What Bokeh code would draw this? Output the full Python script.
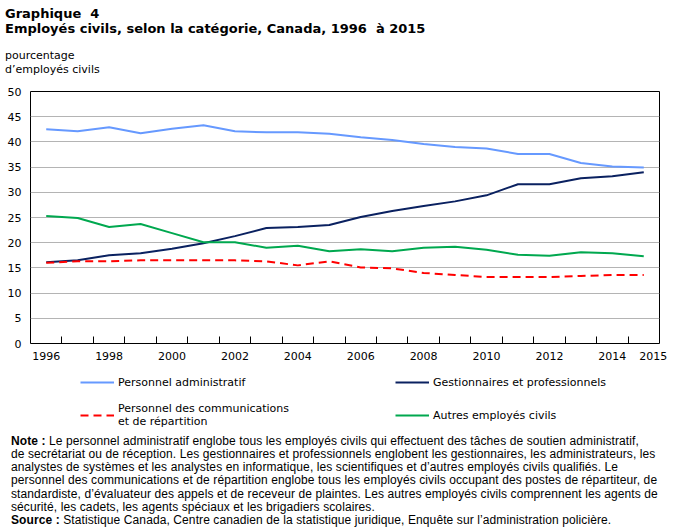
from bokeh.plotting import figure
from bokeh.layouts import column
from bokeh.models import Div, FixedTicker, Legend, LegendItem, Range1d
from bokeh.embed import file_html
from bokeh.resources import INLINE

# Share of civilian employees by category, Canada, 1996 to 2015 (percent)
years = list(range(1996, 2016))
administratif = [42.5, 42.1, 42.9, 41.7, 42.6, 43.3, 42.1, 41.9, 41.9, 41.6,
                 40.9, 40.4, 39.6, 39.0, 38.7, 37.6, 37.6, 35.8, 35.1, 34.9]
gestionnaires = [16.1, 16.5, 17.5, 17.9, 18.8, 19.9, 21.3, 22.9, 23.1, 23.5,
                 25.1, 26.3, 27.3, 28.2, 29.4, 31.6, 31.6, 32.8, 33.2, 34.0]
communications = [16.0, 16.3, 16.3, 16.5, 16.5, 16.5, 16.5, 16.3, 15.5, 16.3,
                  15.1, 14.9, 14.0, 13.6, 13.2, 13.2, 13.2, 13.4, 13.6, 13.6]
autres = [25.3, 24.9, 23.1, 23.7, 21.9, 20.1, 20.1, 19.0, 19.4, 18.3,
          18.7, 18.3, 19.0, 19.2, 18.6, 17.6, 17.4, 18.1, 17.9, 17.3]

series_names = ["Personnel administratif",
                "Gestionnaires et professionnels",
                "Personnel des communications\net de répartition",
                "Autres employés civils"]
series_colors = ["#6699ff", "#0a2160", "#ff0000", "#00a84f"]

y_ticks = list(range(0, 55, 5))
x_label_years = [1996, 1998, 2000, 2002, 2004, 2006, 2008, 2010, 2012, 2014, 2015]

title_lines = ["Graphique&nbsp; 4",
               "Employés civils, selon la catégorie, Canada, 1996&nbsp; à 2015"]
y_title_lines = ["pourcentage", "d\u2019employés civils"]
note_lines = [
    ("Note :", "Le personnel administratif englobe tous les employés civils qui effectuent des tâches de soutien administratif,"),
    ("", "de secrétariat ou de réception. Les gestionnaires et professionnels englobent les gestionnaires, les administrateurs, les"),
    ("", "analystes de systèmes et les analystes en informatique, les scientifiques et d\u2019autres employés civils qualifiés. Le"),
    ("", "personnel des communications et de répartition englobe tous les employés civils occupant des postes de répartiteur, de"),
    ("", "standardiste, d\u2019évaluateur des appels et de receveur de plaintes. Les autres employés civils comprennent les agents de"),
    ("", "sécurité, les cadets, les agents spéciaux et les brigadiers scolaires."),
    ("Source :", "Statistique Canada, Centre canadien de la statistique juridique, Enquête sur l\u2019administration policière."),
]

W = 673
TOP_H, FIG_H, LEG_H, NOTE_H = 80, 293, 59, 99
BORDER_L, BORDER_R = 30, 14

AXIS_FONT = "DejaVu Sans"
NOTE_FONT = "Liberation Sans"


def line_div(text, left, top, font, size, bold=False, spacing=0.0):
    weight = "bold" if bold else "normal"
    return (f'<div style="position:absolute;left:{left}px;top:{top}px;'
            f'font-family:\'{font}\';font-size:{size}px;font-weight:{weight};'
            f'letter-spacing:{spacing}px;line-height:{size + 2}px;'
            f'white-space:nowrap;color:#000;">{text}</div>')


# heading block: chart title and the y-axis caption
head_html = "".join([
    line_div(title_lines[0], 5, 6, AXIS_FONT, 13, bold=True),
    line_div(title_lines[1], 5, 21, AXIS_FONT, 13, bold=True),
    line_div(y_title_lines[0], 5, 49, AXIS_FONT, 11),
    line_div(y_title_lines[1], 5, 63, AXIS_FONT, 11),
])
head = Div(text=f'<div style="position:relative;width:{W}px;height:{TOP_H}px;">{head_html}</div>',
           width=W, height=TOP_H, margin=0)

p = figure(width=W, height=FIG_H, output_backend="svg", toolbar_location=None,
           x_range=Range1d(1995.5, 2015.5), y_range=Range1d(0, 50),
           min_border_left=BORDER_L, min_border_right=BORDER_R,
           min_border_top=11, min_border_bottom=30)
p.background_fill_color = "white"
p.border_fill_color = "white"
p.outline_line_color = "black"
p.outline_line_width = 1

# y axis: labels only, the frame outline acts as the axis line
p.yaxis.ticker = FixedTicker(ticks=y_ticks)
p.yaxis.axis_line_color = None
p.yaxis.major_tick_line_color = None
p.yaxis.minor_tick_line_color = None
p.yaxis.major_tick_out = 0
p.yaxis.major_label_standoff = 9
p.yaxis.major_label_text_font = AXIS_FONT
p.yaxis.major_label_text_font_size = "11px"
p.yaxis.major_label_text_color = "black"

# x axis: short inward marks between years, labels on every second year
x_ticks = x_label_years[:-1] + [2015.3]
p.xaxis.ticker = FixedTicker(ticks=x_ticks,
                             minor_ticks=[y + 0.5 for y in years[:-1]])
p.xaxis.major_label_overrides = {t: str(lab) for t, lab in zip(x_ticks, x_label_years)}
p.xaxis.axis_line_color = None
p.xaxis.major_tick_line_color = None
p.xaxis.major_tick_out = 0
p.xaxis.major_tick_in = 0
p.xaxis.minor_tick_line_color = "black"
p.xaxis.minor_tick_in = 7
p.xaxis.minor_tick_out = 0
p.xaxis.major_label_standoff = 8
p.xaxis.major_label_text_font = AXIS_FONT
p.xaxis.major_label_text_font_size = "11px"
p.xaxis.major_label_text_color = "black"

p.xgrid.grid_line_color = None
p.ygrid.ticker = FixedTicker(ticks=y_ticks[1:-1])
p.ygrid.grid_line_color = "#b4b4b4"
p.ygrid.grid_line_width = 1

series_values = [administratif, gestionnaires, communications, autres]
series_dash = ["solid", "solid", "8 5", "solid"]
for vals, color, dash in zip(series_values, series_colors, series_dash):
    p.line(years, vals, line_color=color, line_width=2, line_dash=dash)

# legend strip below the chart; its series sit outside the visible ranges,
# so only the legend keys show
leg = figure(width=W, height=LEG_H, output_backend="svg", toolbar_location=None,
             x_axis_type=None, y_axis_type=None,
             x_range=Range1d(0, 1), y_range=Range1d(-2, -1),
             min_border_left=BORDER_L, min_border_right=BORDER_R,
             min_border_top=0, min_border_bottom=0)
leg.outline_line_color = None
leg.grid.grid_line_color = None
leg.background_fill_color = "white"
leg.border_fill_color = "white"
keys = [leg.line(years, vals, line_color=c, line_width=2, line_dash=d)
        for vals, c, d in zip(series_values, series_colors, series_dash)]
order = [0, 2, 1, 3]  # column-major: left column first
legend = Legend(
    items=[LegendItem(label=series_names[i], renderers=[keys[i]]) for i in order],
    ncols=2, orientation="vertical", location=(50, 4),
    padding=0, margin=0, spacing=10,
    glyph_width=34, glyph_height=20, label_standoff=4, label_width=267,
    label_height=20,
    label_text_font=AXIS_FONT, label_text_font_size="11px",
    label_text_color="black",
    border_line_color=None, background_fill_alpha=0,
)
leg.add_layout(legend)

# notes and source, one line each
note_html = []
for i, (lead, body) in enumerate(note_lines):
    top = 2 + i * 13.15
    text = f"<b>{lead}</b> {body}" if lead else body
    note_html.append(line_div(text, 11, top, NOTE_FONT, 12, spacing=0.1))
notes = Div(text=f'<div style="position:relative;width:{W}px;height:{NOTE_H}px;">{"".join(note_html)}</div>',
            width=W, height=NOTE_H, margin=0)

layout = column(head, p, leg, notes, spacing=0)
open("out.html", "w").write(file_html(layout, INLINE))
